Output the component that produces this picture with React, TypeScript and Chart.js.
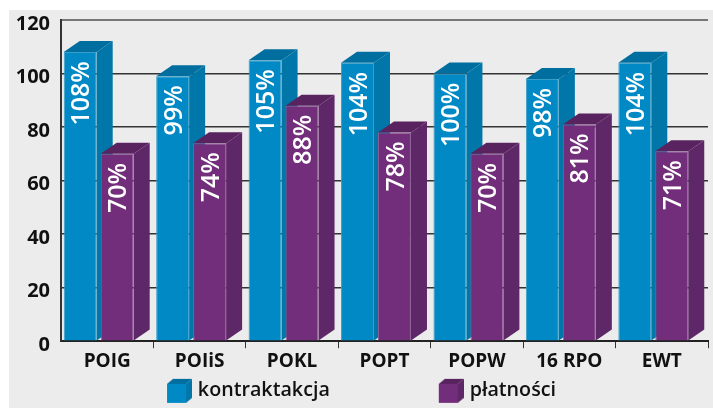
import React, { useEffect, useRef } from "react";
import { Chart, registerables } from "chart.js";

Chart.register(...registerables);

const categories = ["POIG", "POIiS", "POKL", "POPT", "POPW", "16 RPO", "EWT"];
const kontraktakcja = [108, 99, 105, 104, 100, 98, 104];
const platnosci = [70, 74, 88, 78, 70, 81, 71];
const yMax = 120;
const yStep = 20;

const FONT = '"Open Sans", "Noto Sans", sans-serif';
const blue = { front: "#0089c4", side: "#0076a9", top: "#006f9f", edge: "#3a9fca" };
const purple = { front: "#722e7a", side: "#5e2768", top: "#59235f", edge: "#8b5f92" };
const palettes = [blue, purple];
const DX = 16;
const DY = 11;
const SHIFT = -8.5;
const LEGEND_GAP = 108;
const LEGEND_HEIGHT = 29;
const LEGEND_TEXT_TOP = 6;
const LEGEND_NUDGE = 14;

function legendIcon(p: typeof blue) {
  const c = document.createElement("canvas");
  c.width = 30;
  c.height = 26;
  const x = c.getContext("2d")!;
  const l = 5, r = 24, t = 6, b = 25, dx = 6, dy = 5;
  x.fillStyle = p.front;
  x.fillRect(l, t, r - l, b - t);
  x.fillStyle = p.side;
  x.beginPath();
  x.moveTo(r, t); x.lineTo(r + dx, t - dy); x.lineTo(r + dx, b - dy); x.lineTo(r, b);
  x.closePath(); x.fill();
  x.fillStyle = p.top;
  x.beginPath();
  x.moveTo(l, t); x.lineTo(l + dx, t - dy); x.lineTo(r + dx, t - dy); x.lineTo(r, t);
  x.closePath(); x.fill();
  return c;
}

function drawFaces(ctx: any, meta: any, p: typeof blue) {
  meta.data.forEach((bar: any) => {
    const { x, y, base, width } = bar.getProps(["x", "y", "base", "width"], true);
    const l = x - width / 2;
    const r = x + width / 2;
    ctx.fillStyle = p.side;
    ctx.beginPath();
    ctx.moveTo(r, y);
    ctx.lineTo(r + DX, y - DY);
    ctx.lineTo(r + DX, base - DY);
    ctx.lineTo(r, base);
    ctx.closePath();
    ctx.fill();
    ctx.fillStyle = p.top;
    ctx.beginPath();
    ctx.moveTo(l, y);
    ctx.lineTo(l + DX, y - DY);
    ctx.lineTo(r + DX, y - DY);
    ctx.lineTo(r, y);
    ctx.closePath();
    ctx.fill();
  });
}

function drawValueLabels(ctx: any, meta: any, values: number[]) {
  meta.data.forEach((bar: any, i: number) => {
    const { x, y } = bar.getProps(["x", "y"], true);
    ctx.save();
    ctx.translate(x + 2, y + 9);
    ctx.rotate(-Math.PI / 2);
    ctx.fillStyle = "#ffffff";
    ctx.font = `600 25px ${FONT}`;
    ctx.textAlign = "right";
    ctx.textBaseline = "middle";
    ctx.fillText(`${values[i]}%`, 0, 0);
    ctx.restore();
  });
}

const bars3d = {
  id: "bars3d",
  beforeLayout(chart: any) {
    const legend = chart.legend;
    if (!legend || legend.__patched) return;
    legend.__patched = true;
    const fit = legend.fit;
    const draw = legend.draw;
    legend.fit = function () {
      fit.call(this);
      this.height = LEGEND_HEIGHT;
    };
    legend.draw = function () {
      const { top, bottom, left } = this;
      this.top = top + LEGEND_TEXT_TOP - LEGEND_GAP;
      this.bottom = chart.height;
      this.left = left + LEGEND_NUDGE;
      draw.call(this);
      this.top = top;
      this.bottom = bottom;
      this.left = left;
    };
  },
  beforeDatasetsDraw(chart: any) {
    const ctx = chart.ctx;
    ctx.save();
    ctx.translate(SHIFT, 0);
    // Left bar first, so each purple bar sits in front of its blue neighbour.
    chart.data.datasets.forEach((d: any, i: number) => {
      const meta = chart.getDatasetMeta(i);
      drawFaces(ctx, meta, palettes[i]);
      meta.controller.draw();
      drawValueLabels(ctx, meta, d.data);
    });
    ctx.restore();
  },
  beforeDatasetDraw() {
    return false;
  },
};

export default function App() {
  const ref = useRef<HTMLCanvasElement>(null);
  useEffect(() => {
    const icons = palettes.map(legendIcon);
    const chart = new Chart(ref.current!, {
      type: "bar",
      data: {
        labels: categories,
        datasets: [
          { label: "kontraktakcja", data: kontraktakcja, backgroundColor: blue.front, borderColor: blue.edge, borderWidth: 1, clip: false },
          { label: "płatności", data: platnosci, backgroundColor: purple.front, borderColor: purple.edge, borderWidth: 1, clip: false },
        ] as any,
      },
      plugins: [bars3d],
      options: {
        animation: false,
        responsive: false,
        layout: { padding: { top: 20, right: 5, left: 0, bottom: 4 } },
        datasets: { bar: { categoryPercentage: 0.8, barPercentage: 0.892 } },
        scales: {
          x: {
            border: { color: "#222222", width: 2 },
            grid: {
              drawOnChartArea: false,
              drawTicks: true,
              tickLength: 7,
              lineWidth: 1,
              tickColor: (c: any) => (c.index === 0 ? "rgba(0,0,0,0)" : c.index === categories.length ? "#666666" : "#333333"),
            },
            ticks: { color: "#111111", font: { family: FONT, size: 19, weight: "bold" }, padding: 2, maxRotation: 0 },
          },
          y: {
            min: 0,
            max: yMax,
            border: { color: "#333333", width: 2 },
            grid: {
              drawTicks: false,
              color: (c: any) => (c.tick.value === yMax ? "#777777" : "#333333"),
              lineWidth: (c: any) => (c.tick.value === yMax ? 2 : 1.5),
            },
            ticks: { stepSize: yStep, color: "#111111", font: { family: FONT, size: 20, weight: "bold" }, padding: 11 },
            afterFit: (s: any) => {
              s.width = 61;
              s.paddingTop = 0;
            },
            afterUpdate: (s: any) => {
              const proto = Object.getPrototypeOf(s);
              s.drawLabels = function (area: any) {
                const ctx = this.ctx;
                ctx.save();
                ctx.translate(0, 4);
                proto.drawLabels.call(this, area);
                ctx.restore();
              };
            },
          },
        },
        plugins: {
          tooltip: { enabled: false },
          legend: {
            display: true,
            position: "bottom",
            onClick: () => {},
            labels: {
              usePointStyle: true,
              pointStyleWidth: 22,
              padding: LEGEND_GAP,
              color: "#111111",
              font: { family: FONT, size: 19.7, weight: 600 },
              generateLabels: (ch: any) =>
                ch.data.datasets.map((d: any, i: number) => ({
                  text: d.label,
                  pointStyle: icons[i],
                  fontColor: "#111111",
                  datasetIndex: i,
                  lineWidth: 0,
                })),
            },
          },
        },
      } as any,
    });
    return () => chart.destroy();
  }, []);
  return (
    <div style={{ position: "fixed", left: 0, top: 0, width: 713, height: 408, background: "#ffffff", overflow: "hidden" }}>
      <div style={{ position: "absolute", left: 9, top: 10, right: 0, bottom: 0, background: "#ececec" }} />
      <canvas ref={ref} width={713} height={408} style={{ position: "absolute", left: 0, top: 0, width: 713, height: 408 }} />
    </div>
  );
}
